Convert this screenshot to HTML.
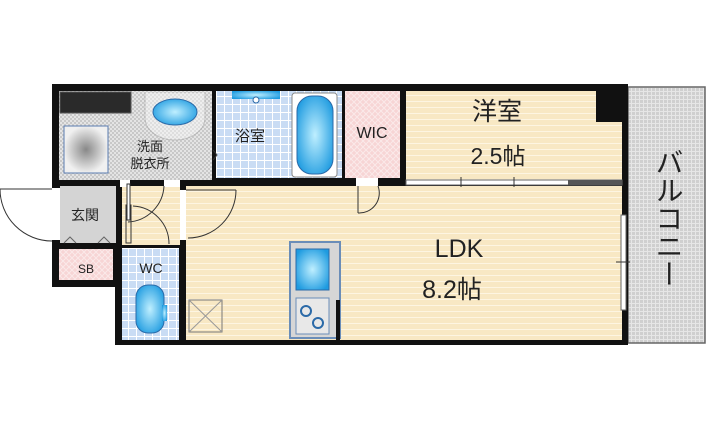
<!DOCTYPE html>
<html><head><meta charset="utf-8"><style>
html,body{margin:0;padding:0;background:#fff;width:720px;height:428px;overflow:hidden}
svg{display:block}
text{font-family:"Liberation Sans","Noto Sans CJK JP",sans-serif;fill:#222}
</style></head><body>
<svg width="720" height="428" viewBox="0 0 720 428" xmlns="http://www.w3.org/2000/svg">
<defs>
<pattern id="wood" width="10" height="6" patternUnits="userSpaceOnUse"><rect width="10" height="6" fill="#f8e8c4"/><rect y="5" width="10" height="1" fill="#fdf5e2"/></pattern>
<pattern id="tile" width="8" height="8" patternUnits="userSpaceOnUse"><rect width="8" height="8" fill="#c9dcf4"/><path d="M0 .5H8M.5 0V8" stroke="#fff" stroke-width="1"/></pattern>
<pattern id="pink" width="6" height="6" patternUnits="userSpaceOnUse"><rect width="6" height="6" fill="#f7d5d5"/><path d="M0 0L6 6M6 0L0 6" stroke="#fbe9e9" stroke-width="1"/></pattern>
<pattern id="gray" width="4" height="4" patternUnits="userSpaceOnUse"><rect width="4" height="4" fill="#e4e4e4"/><rect width="2" height="2" fill="#c8c8c8"/><rect x="2" y="2" width="2" height="2" fill="#c8c8c8"/></pattern>
<pattern id="balc" width="4" height="4" patternUnits="userSpaceOnUse"><rect width="4" height="4" fill="#e6e6e6"/><rect width="3" height="3" fill="#cfcfcf"/></pattern>
<radialGradient id="blue" cx="50%" cy="50%" r="60%"><stop offset="0" stop-color="#bfefff"/><stop offset="1" stop-color="#1e9be0"/></radialGradient>
<radialGradient id="wm" cx="50%" cy="50%" r="50%"><stop offset="0" stop-color="#888"/><stop offset="1" stop-color="#f0f0f0"/></radialGradient>
</defs>

<rect x="628" y="87" width="77" height="256" fill="url(#balc)" stroke="#666" stroke-width="1.5"/>
<rect x="52" y="84" width="576" height="101" fill="#111"/>
<rect x="115" y="185" width="513" height="160" fill="#111"/>
<rect x="52" y="185" width="68" height="102" fill="#111"/>

<rect x="59" y="91" width="153" height="89" fill="url(#gray)"/>
<rect x="60" y="92" width="71" height="21" fill="#2a2a2a" stroke="#555"/>
<rect x="216" y="91" width="126" height="87" fill="url(#tile)"/>
<rect x="345" y="91" width="55" height="87" fill="url(#pink)"/>
<rect x="406" y="91" width="216" height="89" fill="url(#wood)"/>
<rect x="596" y="87" width="28" height="35" fill="#111"/>
<rect x="60" y="186" width="56" height="57" fill="#d4d4d4"/>
<rect x="59" y="249" width="54" height="31" fill="url(#pink)"/>
<rect x="122" y="186" width="58" height="59" fill="url(#wood)"/>
<rect x="122" y="248" width="57" height="92" fill="url(#tile)"/>
<rect x="186" y="186" width="436" height="154" fill="url(#wood)"/>
<rect x="406" y="180" width="216" height="5" fill="#fff" stroke="#666" stroke-width="1"/>
<rect x="568" y="180" width="54" height="5" fill="#555"/>
<path d="M461 177v10M514 177v10" stroke="#333"/>
<rect x="621" y="215" width="5" height="95" fill="#fff" stroke="#666"/>
<path d="M616 262h14" stroke="#333"/>

<rect x="120" y="180" width="10" height="7" fill="#fff"/>
<rect x="164" y="180" width="16" height="7" fill="#fff"/>
<rect x="180" y="190" width="6" height="50" fill="#fff"/>
<rect x="356" y="178" width="22" height="8" fill="#fff"/>
<rect x="45" y="188" width="15" height="52" fill="#fff"/>
<g fill="none" stroke="#333" stroke-width="1">
<path d="M52 189H0M0 189A52 52 0 0 0 52 241"/>
<path d="M186 190h50M236 190A48 48 0 0 1 188 238"/>
<path d="M128 222A38 38 0 0 0 164 186"/>
<rect x="126" y="205" width="5" height="38"/>
<path d="M169 244A38 38 0 0 0 133 206"/>
<path d="M358 186v27M358 213A20 20 0 0 0 378 186"/>
<path d="M213 150l4 5-4 5"/>
</g>
<rect x="127" y="184" width="3" height="36" fill="#fff" stroke="#333"/>
<path d="M64 243l6-6 6 6M98 243l6-6 6 6" fill="none" stroke="#666"/>

<path d="M145 93v25a30 22 0 0 0 60 0v-25" fill="#fff" stroke="#999" opacity=".4"/>
<ellipse cx="175" cy="112" rx="22" ry="13" fill="url(#blue)" stroke="#2b6aa8"/>
<rect x="64" y="126" width="44" height="47" fill="url(#wm)" stroke="#5a7bb0"/>
<rect x="232" y="91" width="48" height="8" fill="url(#blue)"/>
<circle cx="256" cy="100" r="3" fill="#fff" stroke="#2b6aa8"/>
<rect x="292" y="93" width="45" height="84" rx="3" fill="#fff" stroke="#888"/>
<rect x="297" y="96" width="36" height="78" rx="15" fill="url(#blue)" stroke="#2b6aa8"/>
<rect x="136" y="285" width="28" height="48" rx="12" fill="url(#blue)" stroke="#2b6aa8"/>
<rect x="162" y="305" width="5" height="16" fill="url(#blue)"/>
<rect x="290" y="242" width="50" height="96" fill="#d6d6d6" stroke="#6a8db8" stroke-width="2"/>
<rect x="296" y="249" width="33" height="41" fill="url(#blue)" stroke="#2b6aa8"/>
<rect x="296" y="298" width="33" height="36" fill="#e8e8e8" stroke="#6a8db8"/>
<circle cx="306" cy="311" r="5" fill="none" stroke="#2b6aa8" stroke-width="2"/>
<circle cx="318" cy="323" r="5" fill="none" stroke="#2b6aa8" stroke-width="2"/>
<rect x="336" y="300" width="4" height="40" fill="#111"/>
<rect x="189" y="300" width="33" height="32" fill="none" stroke="#777"/>
<path d="M189 300l33 32M222 300l-33 32" stroke="#999"/>

<text x="150" y="151" font-size="13" text-anchor="middle">洗面</text>
<text x="150" y="168" font-size="13" text-anchor="middle">脱衣所</text>
<text x="250" y="141" font-size="15" text-anchor="middle">浴室</text>
<text x="372" y="138" font-size="16" text-anchor="middle">WIC</text>
<text x="497" y="120" font-size="25" text-anchor="middle">洋室</text>
<text x="498" y="164" font-size="23" text-anchor="middle">2.5帖</text>
<text x="459" y="257" font-size="25" text-anchor="middle">LDK</text>
<text x="452" y="298" font-size="25" text-anchor="middle">8.2帖</text>
<text x="85" y="220" font-size="14" text-anchor="middle">玄関</text>
<text x="86" y="273" font-size="12" text-anchor="middle">SB</text>
<text x="151" y="273" font-size="14" text-anchor="middle">WC</text>
<text x="668" y="218" font-size="28" text-anchor="middle" writing-mode="tb">バルコニー</text>
</svg>
</body></html>
